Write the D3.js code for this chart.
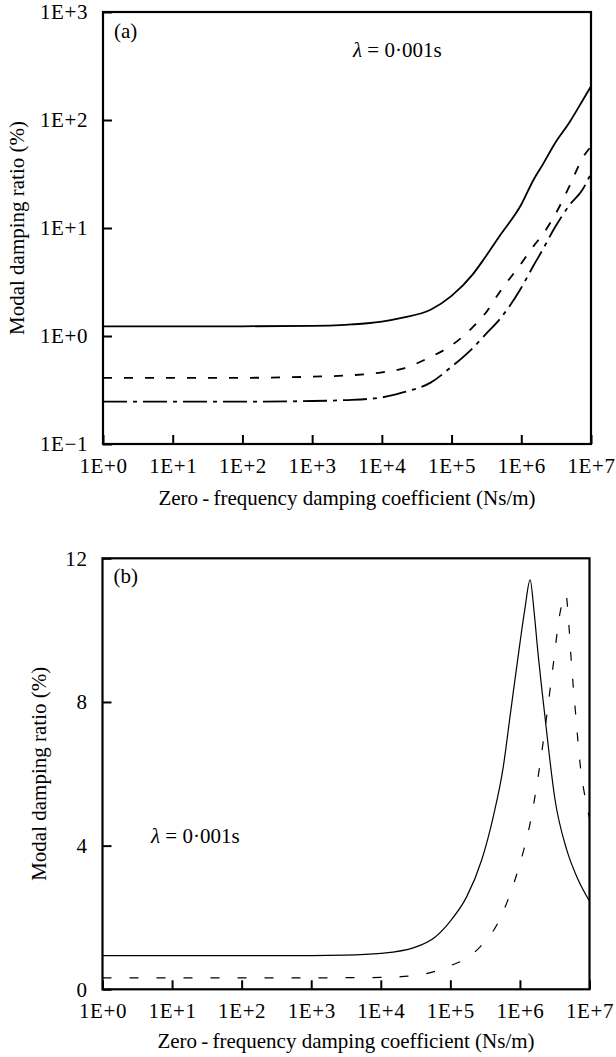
<!DOCTYPE html>
<html>
  <head>
    <script src="https://d3js.org/d3.v7.min.js"></script>
  </head>
  <body style="margin: 0; background: #fff">
    <div id="chart"></div>
    <script>
      // x values (Ns/m) shared by the three curves of panel (a)
      const topX = [1, 10, 100, 1e3, 3e3, 1e4, 2e4, 5e4, 1e5, 2e5, 3e5, 5e5, 1e6, 1.5e6, 2e6, 3e6, 5e6, 7.5e6, 1e7];
      const topSolid = [1.23, 1.23, 1.23, 1.24, 1.27, 1.36, 1.48, 1.75, 2.35, 3.7, 5.3, 8.6, 16.5, 28, 38, 60, 97, 150, 205];
      const topDashed = [0.41, 0.41, 0.41, 0.42, 0.43, 0.46, 0.5, 0.64, 0.82, 1.2, 1.6, 2.6, 4.7, 6.8, 8.6, 13, 25, 44, 57];
      const topDashDot = [0.247, 0.247, 0.247, 0.25, 0.255, 0.27, 0.3, 0.37, 0.52, 0.77, 1.02, 1.45, 2.8, 4.5, 6.2, 10, 16.5, 22.5, 32];

      // panel (b): linear damping ratio
      const botSolidX = [1, 10, 100, 1e3, 3e3, 1e4, 3e4, 6e4, 1e5, 1.72e5, 2.82e5, 4.14e5, 5.77e5, 7.2e5, 1e6, 1.18e6, 1.4e6, 1.6e6, 1.79e6, 2.29e6, 3.2e6, 4.71e6, 6.9e6, 1e7];
      const botSolid = [0.94, 0.94, 0.94, 0.94, 0.95, 1.0, 1.16, 1.45, 1.9, 2.58, 3.6, 4.81, 6.2, 7.59, 9.64, 10.6, 11.4, 10.5, 9.5, 7.59, 5.27, 3.88, 3.04, 2.45];
      const botDashX = [1, 10, 100, 1e3, 1e4, 3e4, 6e4, 1e5, 1.5e5, 2.7e5, 4.8e5, 7e5, 1e6, 1.4e6, 1.86e6, 2.35e6, 2.95e6, 3.85e6, 4.57e6, 5.07e6, 5.5e6, 6.3e6, 7.4e6, 8.8e6, 1e7];
      const botDashed = [0.32, 0.32, 0.32, 0.32, 0.33, 0.38, 0.5, 0.66, 0.8, 1.19, 1.84, 2.58, 3.5, 4.62, 6.02, 7.41, 8.9, 10.57, 11.0, 10.1, 9.08, 7.7, 6.2, 5.27, 4.76];

      const xTicks = [1, 10, 100, 1e3, 1e4, 1e5, 1e6, 1e7];
      const xTickLabels = ["1E+0", "1E+1", "1E+2", "1E+3", "1E+4", "1E+5", "1E+6", "1E+7"];
      const topYTicks = [0.1, 1, 10, 100, 1000];
      const topYTickLabels = ["1E\u22121", "1E+0", "1E+1", "1E+2", "1E+3"];
      const botYTicks = [0, 4, 8, 12];
      const botYTickLabels = ["0", "4", "8", "12"];

      const xTitle = "Zero\u2009-\u2009frequency damping coefficient (Ns/m)";
      const yTitle = "Modal damping ratio (%)";

      const FONT = '"Liberation Serif"';
      const FS = 21;

      const svg = d3
        .select("#chart")
        .append("svg")
        .attr("width", 616)
        .attr("height", 1057)
        .style("display", "block");

      function serif(sel) {
        return sel.attr("font-family", FONT).attr("font-size", FS).attr("fill", "#000");
      }

      function panel(opts) {
        const { x, y } = opts;
        const g = svg.append("g");
        const [x0, x1] = x.range();
        const [y0, y1] = y.range();

        // x axis, ticks pointing inward
        const xa = g
          .append("g")
          .attr("transform", `translate(0, ${y0})`)
          .call(
            d3.axisBottom(x)
              .tickValues(xTicks)
              .tickSize(-9)
              .tickFormat((d, i) => xTickLabels[i])
          );
        xa.select(".domain").remove();
        xa.selectAll("line").attr("stroke-width", 2);
        xa.selectAll("text")
          .attr("y", 22)
          .attr("dy", "0.33em");

        const ya = g
          .append("g")
          .attr("transform", `translate(${x0}, 0)`)
          .call(
            d3.axisLeft(y)
              .tickValues(opts.yTicks)
              .tickSize(-9)
              .tickPadding(15)
              .tickFormat((d, i) => opts.yLabels[i])
          );
        ya.select(".domain").remove();
        ya.selectAll("line").attr("stroke-width", 2);
        ya.selectAll("text").attr("dy", "0.33em");
        [xa, ya].forEach((a) => {
          serif(a);
          serif(a.selectAll("text")).attr("letter-spacing", 0.6);
        });

        // frame
        g.append("rect")
          .attr("x", x0)
          .attr("y", y1)
          .attr("width", x1 - x0)
          .attr("height", y0 - y1)
          .attr("fill", "none")
          .attr("stroke", "#000")
          .attr("stroke-width", 2.2);

        serif(g.append("text"))
          .attr("x", (x0 + x1) / 2)
          .attr("y", y0 + opts.xTitleDy)
          .attr("text-anchor", "middle")
          .text(xTitle);

        serif(g.append("text"))
          .attr("transform", `translate(${opts.yTitleX}, ${(y0 + y1) / 2}) rotate(-90)`)
          .attr("text-anchor", "middle")
          .text(yTitle);

        serif(g.append("text"))
          .attr("x", x0 + 11)
          .attr("y", y1 + opts.tagDy)
          .text(opts.tag);

        const lam = serif(g.append("text"))
          .attr("x", opts.lamX)
          .attr("y", opts.lamY);
        lam.append("tspan").attr("font-style", "italic").text("\u03bb");
        lam.append("tspan").text(" = 0\u00b7001s");

        return g;
      }

      // panel (a)
      const xa = d3.scaleLog().domain([1, 1e7]).range([103, 591]);
      const ya = d3.scaleLog().domain([0.1, 1000]).range([444, 12]);
      const ga = panel({
        x: xa, y: ya, yTicks: topYTicks, yLabels: topYTickLabels,
        xTitleDy: 61, yTitleX: 24, tag: "(a)", tagDy: 26, lamX: 353, lamY: 57
      });
      const lineA = d3.line().x((d) => xa(d[0])).y((d) => ya(d[1])).curve(d3.curveMonotoneX);
      const seriesA = [
        { v: topSolid, dash: null },
        { v: topDashed, dash: "9,12" },
        { v: topDashDot, dash: "24,6,4,6" },
      ];
      ga.selectAll(".series")
        .data(seriesA)
        .enter()
        .append("path")
        .attr("d", (s) => lineA(topX.map((x, i) => [x, s.v[i]])))
        .attr("fill", "none")
        .attr("stroke", "#000")
        .attr("stroke-width", 1.8)
        .attr("stroke-dasharray", (s) => s.dash);

      // panel (b)
      const xb = d3.scaleLog().domain([1, 1e7]).range([102.5, 589.5]);
      const yb = d3.scaleLinear().domain([0, 12]).range([989.3, 558.3]);
      const gb = panel({
        x: xb, y: yb, yTicks: botYTicks, yLabels: botYTickLabels,
        xTitleDy: 59, yTitleX: 45.5, tag: "(b)", tagDy: 25, lamX: 151, lamY: 843
      });
      const lineB = d3.line().x((d) => xb(d[0])).y((d) => yb(d[1])).curve(d3.curveMonotoneX);
      const seriesB = [
        { xs: botSolidX, v: botSolid, dash: null },
        { xs: botDashX, v: botDashed, dash: "9,18" },
      ];
      gb.selectAll(".series")
        .data(seriesB)
        .enter()
        .append("path")
        .attr("d", (s) => lineB(s.xs.map((x, i) => [x, s.v[i]])))
        .attr("fill", "none")
        .attr("stroke", "#000")
        .attr("stroke-width", 1.2)
        .attr("stroke-dasharray", (s) => s.dash);
    </script>
  </body>
</html>
